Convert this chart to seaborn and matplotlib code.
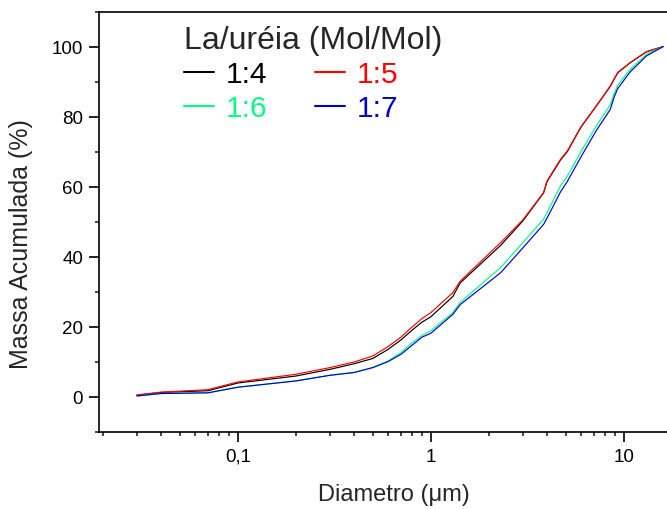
import numpy as np
import pandas as pd
import matplotlib
matplotlib.use("Agg")
import matplotlib.pyplot as plt
import seaborn as sns
from matplotlib.ticker import FixedLocator, FixedFormatter, MultipleLocator

# ---- data ----
diametro = [0.03, 0.04, 0.07, 0.1, 0.2, 0.3, 0.4, 0.5, 0.6, 0.7, 0.8, 0.9, 1.0,
            1.3, 1.42, 2.3, 3.0, 3.84, 4.0, 4.7, 5.1, 6.0, 7.2, 8.5, 8.9, 9.3,
            10.8, 13.1, 16.0]
r_1_4 = [0.4, 1.2, 1.7, 3.9, 5.9, 7.8, 9.4, 10.9, 13.5, 16.2, 19.0, 21.3, 22.8,
         28.6, 32.5, 43.2, 50.2, 58.2, 61.4, 67.6, 70.0, 77.0, 83.0, 88.6, 90.6, 92.5,
         95.4, 98.5, 100.0]
r_1_5 = [0.5, 1.3, 2.0, 4.2, 6.4, 8.3, 9.9, 11.6, 14.3, 17.0, 19.9, 22.3, 24.0,
         29.7, 33.0, 44.0, 50.5, 58.3, 61.6, 67.8, 70.2, 77.1, 83.0, 88.7, 90.7, 92.6,
         95.4, 98.5, 100.0]
r_1_6 = [0.2, 0.9, 1.1, 2.7, 4.5, 6.1, 6.9, 8.3, 10.2, 12.6, 15.4, 17.5, 18.8,
         24.0, 26.9, 36.9, 44.0, 50.7, 52.6, 60.2, 63.0, 70.0, 77.3, 83.3, 86.5, 89.0,
         93.5, 97.8, 100.0]
r_1_7 = [0.2, 0.9, 1.1, 2.7, 4.5, 6.1, 6.9, 8.3, 10.0, 12.1, 14.7, 17.0, 18.1,
         23.5, 26.3, 35.4, 42.5, 49.2, 51.0, 58.5, 61.5, 68.5, 76.0, 82.0, 85.5, 88.0,
         92.8, 97.3, 100.0]
series_names = ["1:4", "1:5", "1:6", "1:7"]
series_colors = ["#000000", "#FF0000", "#00FF80", "#0000CC"]
x_tick_vals = [0.1, 1, 10]
x_tick_labels = ["0,1", "1", "10"]
y_tick_vals = [0, 20, 40, 60, 80, 100]
legend_title = "La/uréia (Mol/Mol)"
xlabel = "Diametro (\u03bcm)"
ylabel = "Massa Acumulada (%)"

rows = []
for name, vals in zip(series_names, [r_1_4, r_1_5, r_1_6, r_1_7]):
    for xv, yv in zip(diametro, vals):
        rows.append({"Diametro": xv, "Massa": yv, "Razao": name})
df = pd.DataFrame(rows)

sns.set_theme(style="ticks")
plt.rcParams["font.family"] = ["Liberation Sans", "DejaVu Sans"]

fig = plt.figure(figsize=(6.67, 5.10), dpi=100)
ax = fig.add_axes([99 / 667, 1 - 432.7 / 510, 589 / 667, (432.7 - 12.5) / 510])

sns.lineplot(data=df, x="Diametro", y="Massa", hue="Razao",
             hue_order=series_names, palette=series_colors,
             estimator=None, linewidth=0.85, legend=False, ax=ax)

ax.set_xscale("log")
ax.set_xlim(0.0191, 21.5)
ax.set_ylim(-10, 110)

ax.xaxis.set_major_locator(FixedLocator(x_tick_vals))
ax.xaxis.set_major_formatter(FixedFormatter(x_tick_labels))
minor = [m * 10.0 ** e for e in (-2, -1, 0, 1) for m in range(2, 10)]
ax.xaxis.set_minor_locator(FixedLocator(minor))
ax.xaxis.set_minor_formatter(FixedFormatter([""] * len(minor)))
ax.yaxis.set_major_locator(FixedLocator(y_tick_vals))
ax.yaxis.set_minor_locator(MultipleLocator(10))

for s in ax.spines.values():
    s.set_linewidth(1.2)
    s.set_color("black")

ax.tick_params(which="major", direction="out", length=7, width=1.2,
               labelsize=13.5, pad=4.5, colors="black", top=False, right=False)
ax.tick_params(which="minor", direction="out", length=3.2, width=1.2,
               top=False, right=False)

ax.set_xlabel(xlabel, fontsize=17)
ax.set_ylabel(ylabel, fontsize=18)
ax.xaxis.set_label_coords(0.5, -0.122)
ax.yaxis.set_label_coords(-0.112, 0.45)

lines = ax.get_lines()[:4]
order = [0, 2, 1, 3]  # row-wise: 1:4, 1:5 / 1:6, 1:7
leg = ax.legend([lines[i] for i in order], [series_names[i] for i in order],
                title=legend_title, ncol=2,
                loc="upper left", bbox_to_anchor=(0.144, 0.969),
                fontsize=21.5, title_fontsize=23, frameon=False,
                handlelength=1.0, handletextpad=0.4, columnspacing=1.6,
                labelspacing=0.2, borderpad=0.0, borderaxespad=0.0,
                alignment="left", labelcolor="linecolor")
for h in leg.legend_handles:
    h.set_linewidth(1.5)

fig.savefig("out.png", dpi=100)
